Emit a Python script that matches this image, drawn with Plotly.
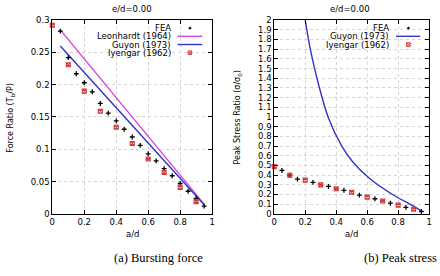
import plotly.graph_objects as go

# ---------------- data ----------------
# (a) Bursting force
fea_a_x = [0.05, 0.10, 0.15, 0.20, 0.25, 0.30, 0.35, 0.40, 0.45, 0.50,
           0.55, 0.60, 0.65, 0.70, 0.75, 0.80, 0.85, 0.90, 0.95]
fea_a_y = [0.283, 0.242, 0.217, 0.203, 0.189, 0.171, 0.156, 0.144, 0.131, 0.119,
           0.106, 0.093, 0.082, 0.070, 0.059, 0.047, 0.035, 0.024, 0.012]
leon_x = [0.05, 0.95]
leon_y = [0.285, 0.015]
guyon_a_x = [0.05, 0.95]
guyon_a_y = [0.260, 0.014]
iyen_a_x = [0.0, 0.1, 0.2, 0.3, 0.4, 0.5, 0.6, 0.7, 0.8, 0.9]
iyen_a_y = [0.292, 0.231, 0.190, 0.159, 0.134, 0.109, 0.085, 0.064, 0.041, 0.019]

# (b) Peak stress
fea_b_x = [0.05, 0.10, 0.15, 0.25, 0.35, 0.45, 0.55, 0.65, 0.75, 0.85, 0.95]
fea_b_y = [0.448, 0.400, 0.358, 0.325, 0.283, 0.243, 0.193, 0.156, 0.110, 0.067, 0.024]
guyon_b_x = [0.20, 0.234, 0.287, 0.35, 0.436, 0.51, 0.616, 0.764, 0.913, 0.955]
guyon_b_y = [2.00, 1.69, 1.33, 0.99, 0.70, 0.53, 0.365, 0.20, 0.067, 0.024]
iyen_b_x = [0.0, 0.1, 0.2, 0.3, 0.4, 0.5, 0.6, 0.7, 0.8, 0.9]
iyen_b_y = [0.488, 0.398, 0.348, 0.299, 0.259, 0.223, 0.173, 0.133, 0.090, 0.047]

title_text = "e/d=0.00"
caption_a = "(a) Bursting force"
caption_b = "(b) Peak stress"

# ---------------- style ----------------
W, H = 440, 276
def px(x): return x / W
def py(y): return 1 - y / H

BLUE = "#3434c4"
MAG = "#d844d8"
RED = "#d23a3a"
FONT = "DejaVu Sans"

fea_marker = dict(symbol="cross-thin", size=3.5, line=dict(color="black", width=1.3), color="black")
iyen_marker = dict(symbol="square-x-open", size=4, line=dict(color=RED, width=1.1), color=RED)

fig = go.Figure()
# left
fig.add_trace(go.Scatter(x=leon_x, y=leon_y, mode="lines", line=dict(color=MAG, width=1.4), xaxis="x", yaxis="y"))
fig.add_trace(go.Scatter(x=guyon_a_x, y=guyon_a_y, mode="lines", line=dict(color=BLUE, width=1.4), xaxis="x", yaxis="y"))
fig.add_trace(go.Scatter(x=fea_a_x, y=fea_a_y, mode="markers", marker=fea_marker, xaxis="x", yaxis="y"))
fig.add_trace(go.Scatter(x=iyen_a_x, y=iyen_a_y, mode="markers", marker=iyen_marker, xaxis="x", yaxis="y", cliponaxis=False))
# right
fig.add_trace(go.Scatter(x=guyon_b_x, y=guyon_b_y, mode="lines", line=dict(color=BLUE, width=1.4, shape="spline", smoothing=0.8), xaxis="x2", yaxis="y2"))
fig.add_trace(go.Scatter(x=fea_b_x, y=fea_b_y, mode="markers", marker=fea_marker, xaxis="x2", yaxis="y2"))
fig.add_trace(go.Scatter(x=iyen_b_x, y=iyen_b_y, mode="markers", marker=iyen_marker, xaxis="x2", yaxis="y2", cliponaxis=False))

axis_common = dict(showline=True, linecolor="black", linewidth=1, mirror="ticks",
                   ticks="inside", ticklen=4, tickcolor="black", tickwidth=1,
                   showgrid=True, gridcolor="#d4d4d4", griddash="dot", gridwidth=1,
                   zeroline=False, tickfont=dict(family=FONT, size=8.5, color="black"))
ydom = [py(216.7), py(15.7)]
fig.update_layout(
    width=W, height=H, margin=dict(l=0, r=0, t=0, b=0),
    paper_bgcolor="white", plot_bgcolor="white", showlegend=False,
    xaxis=dict(domain=[px(50), px(212)], range=[0, 1], dtick=0.2, anchor="y", **axis_common),
    yaxis=dict(domain=ydom, range=[0, 0.3], dtick=0.05, anchor="x", **axis_common),
    xaxis2=dict(domain=[px(275), px(432)], range=[0, 1], dtick=0.2, anchor="y2", **axis_common),
    yaxis2=dict(domain=ydom, range=[0, 2], dtick=0.1, anchor="x2", **axis_common),
)

ann = []
def txt(x, y, s, size=8.5, xanchor="center", family=FONT, angle=0):
    ann.append(dict(x=px(x), y=py(y), xref="paper", yref="paper", text=s, showarrow=False,
                    xanchor=xanchor, yanchor="middle", textangle=angle,
                    font=dict(family=family, size=size, color="black")))

# titles
txt(131, 4, title_text)
txt(352, 4, title_text)
# axis titles
txt(131, 238, "a/d")
txt(353, 238, "a/d")
txt(8, 117, "Force Ratio (T<sub>b</sub>/P)", size=8, angle=-90)
txt(238, 117, "Peak Stress Ratio (σ/σ<sub>0</sub>)", size=8, angle=-90)
# captions
txt(110, 262, caption_a, size=12.5, xanchor="left", family="Liberation Serif")
txt(364, 262, caption_b, size=12.5, xanchor="left", family="Liberation Serif")

# legends (gnuplot style: text right, sample on the right)
shapes = []
def leg_line(x0, x1, y, color):
    shapes.append(dict(type="line", xref="paper", yref="paper", x0=px(x0), x1=px(x1), y0=py(y), y1=py(y),
                       line=dict(color=color, width=1.4)))
def leg_plus(x, y):
    shapes.append(dict(type="line", xref="paper", yref="paper", x0=px(x-1.5), x1=px(x+1.5), y0=py(y), y1=py(y), line=dict(color="black", width=1.2)))
    shapes.append(dict(type="line", xref="paper", yref="paper", x0=px(x), x1=px(x), y0=py(y-1.5), y1=py(y+1.5), line=dict(color="black", width=1.2)))
def leg_box(x, y):
    d = 1.8
    shapes.append(dict(type="rect", xref="paper", yref="paper", x0=px(x-d), x1=px(x+d), y0=py(y+d), y1=py(y-d), line=dict(color=RED, width=1)))
    shapes.append(dict(type="line", xref="paper", yref="paper", x0=px(x-d), x1=px(x+d), y0=py(y+d), y1=py(y-d), line=dict(color=RED, width=1)))
    shapes.append(dict(type="line", xref="paper", yref="paper", x0=px(x-d), x1=px(x+d), y0=py(y-d), y1=py(y+d), line=dict(color=RED, width=1)))

# left legend
txt(172, 24, "FEA", xanchor="right")
txt(172, 32.5, "Leonhardt (1964)", xanchor="right")
txt(172, 41, "Guyon (1973)", xanchor="right")
txt(172, 49.5, "Iyengar (1962)", xanchor="right")
leg_plus(189.5, 24)
leg_line(177, 202, 32.5, MAG)
leg_line(177, 202, 41, BLUE)
leg_box(189.5, 49.5)
# right legend
txt(393.5, 24, "FEA", xanchor="right")
txt(393.5, 32.5, "Guyon (1973)", xanchor="right")
txt(393.5, 41, "Iyengar (1962)", xanchor="right")
leg_plus(411, 24)
leg_line(398.5, 423, 32.5, BLUE)
leg_box(411, 41)

fig.update_layout(annotations=ann, shapes=shapes)
fig.write_html("out.html")
